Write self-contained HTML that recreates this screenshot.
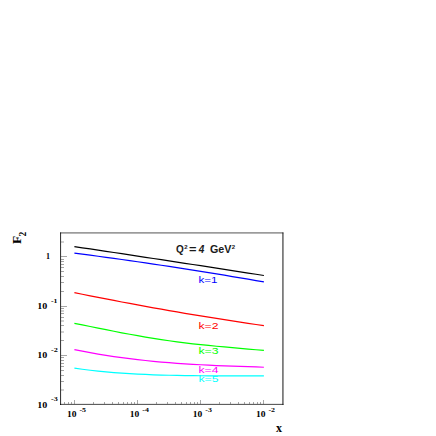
<!DOCTYPE html><html><head><meta charset="utf-8"><title>F2</title><style>html,body{margin:0;padding:0;background:#fff}svg{display:block}</style></head><body>
<svg width="436" height="436" viewBox="0 0 436 436">
<rect width="436" height="436" fill="#fff"/>
<path d="M60 232.93 H283.4" fill="none" stroke="#000" stroke-width="1" stroke-opacity="0.68"/>
<path d="M282.95 232.5 V404.9" fill="none" stroke="#000" stroke-width="1" stroke-opacity="0.92"/>
<path d="M60.56 232.5 V404.9" fill="none" stroke="#000" stroke-width="1.04" stroke-opacity="0.8"/>
<path d="M60 404.38 H283.5" fill="none" stroke="#000" stroke-width="1" stroke-opacity="0.72"/>
<path d="M64.5 404 v-2 M68.5 404 v-2 M71.5 404 v-2 M74.5 404 v-4 M93.5 404 v-2 M104.5 404 v-2 M112.5 404 v-2 M118.5 404 v-2 M123.5 404 v-2 M127.5 404 v-2 M131.5 404 v-2 M134.5 404 v-2 M137.5 404 v-4 M156.5 404 v-2 M167.5 404 v-2 M175.5 404 v-2 M181.5 404 v-2 M186.5 404 v-2 M190.5 404 v-2 M194.5 404 v-2 M197.5 404 v-2 M200.5 404 v-4 M219.5 404 v-2 M230.5 404 v-2 M238.5 404 v-2 M244.5 404 v-2 M249.5 404 v-2 M253.5 404 v-2 M257.5 404 v-2 M260.5 404 v-2 M263.5 404 v-4 M61 390 h3 M61 381.5 h3 M61 375.5 h3 M61 370.5 h3 M61 366.5 h3 M61 363.5 h3 M61 360.5 h3 M61 357.5 h3 M61 355.5 h6 M61 340.5 h3 M61 332 h3 M61 325.5 h3 M61 321 h3 M61 317.5 h3 M61 313.5 h3 M61 311 h3 M61 308.5 h3 M61 306.5 h6 M61 291.5 h3 M61 282.5 h3 M61 276.5 h3 M61 271.5 h3 M61 267.5 h3 M61 264.5 h3 M61 261.5 h3 M61 259.5 h3 M61 256.5 h6 M61 242 h3" fill="none" stroke="#000" stroke-width="0.35"/>
<path d="M74.4 246.62 L82.3 247.79 L90.2 248.97 L98.1 250.15 L106.0 251.33 L113.9 252.52 L121.8 253.71 L129.7 254.90 L137.6 256.09 L145.5 257.28 L153.4 258.48 L161.3 259.68 L169.1 260.88 L177.0 262.08 L184.9 263.29 L192.8 264.50 L200.7 265.71 L208.6 266.92 L216.5 268.14 L224.4 269.36 L232.3 270.58 L240.2 271.80 L248.1 273.03 L256.0 274.26 L263.9 275.49" fill="none" stroke="#000000" stroke-width="1.22" stroke-linejoin="round"/>
<path d="M74.4 253.16 L82.3 254.18 L90.2 255.22 L98.1 256.27 L106.0 257.34 L113.9 258.42 L121.8 259.52 L129.7 260.63 L137.6 261.76 L145.5 262.91 L153.4 264.07 L161.3 265.24 L169.1 266.43 L177.0 267.64 L184.9 268.87 L192.8 270.10 L200.7 271.36 L208.6 272.63 L216.5 273.92 L224.4 275.22 L232.3 276.53 L240.2 277.87 L248.1 279.22 L256.0 280.58 L263.9 281.96" fill="none" stroke="#0000ff" stroke-width="1.22" stroke-linejoin="round"/>
<path d="M74.4 292.64 L82.3 294.25 L90.2 295.83 L98.1 297.40 L106.0 298.94 L113.9 300.47 L121.8 301.98 L129.7 303.46 L137.6 304.93 L145.5 306.37 L153.4 307.80 L161.3 309.20 L169.1 310.59 L177.0 311.95 L184.9 313.29 L192.8 314.62 L200.7 315.92 L208.6 317.21 L216.5 318.47 L224.4 319.71 L232.3 320.94 L240.2 322.14 L248.1 323.32 L256.0 324.49 L263.9 325.63" fill="none" stroke="#ff0000" stroke-width="1.22" stroke-linejoin="round"/>
<path d="M74.4 323.30 L82.3 324.89 L90.2 326.49 L98.1 328.09 L106.0 329.68 L113.9 331.25 L121.8 332.78 L129.7 334.27 L137.6 335.70 L145.5 337.06 L153.4 338.36 L161.3 339.59 L169.1 340.74 L177.0 341.83 L184.9 342.84 L192.8 343.78 L200.7 344.66 L208.6 345.47 L216.5 346.24 L224.4 346.97 L232.3 347.67 L240.2 348.36 L248.1 349.04 L256.0 349.74 L263.9 350.46" fill="none" stroke="#00ff00" stroke-width="1.22" stroke-linejoin="round"/>
<path d="M74.4 349.60 L82.3 351.18 L90.2 352.66 L98.1 354.04 L106.0 355.33 L113.9 356.53 L121.8 357.65 L129.7 358.68 L137.6 359.63 L145.5 360.50 L153.4 361.30 L161.3 362.03 L169.1 362.69 L177.0 363.29 L184.9 363.83 L192.8 364.32 L200.7 364.76 L208.6 365.16 L216.5 365.53 L224.4 365.86 L232.3 366.16 L240.2 366.45 L248.1 366.72 L256.0 366.98 L263.9 367.24" fill="none" stroke="#ff00ff" stroke-width="1.22" stroke-linejoin="round"/>
<path d="M74.4 368.13 L82.3 369.25 L90.2 370.25 L98.1 371.12 L106.0 371.89 L113.9 372.57 L121.8 373.15 L129.7 373.66 L137.6 374.09 L145.5 374.46 L153.4 374.77 L161.3 375.02 L169.1 375.24 L177.0 375.41 L184.9 375.55 L192.8 375.66 L200.7 375.75 L208.6 375.81 L216.5 375.86 L224.4 375.90 L232.3 375.93 L240.2 375.94 L248.1 375.95 L256.0 375.96 L263.9 375.96" fill="none" stroke="#00ffff" stroke-width="1.22" stroke-linejoin="round"/>
<g font-family="'Liberation Sans', sans-serif" fill="#1a1a1a" font-weight="bold">
<text x="176" y="253" font-size="10">Q</text>
<text x="184.3" y="248.5" font-size="6">2</text>
<text x="189" y="253" font-size="10" textLength="7.5" lengthAdjust="spacingAndGlyphs">=</text>
<text x="198.7" y="253" font-size="10" font-style="italic">4</text>
<text x="210" y="253" font-size="10" textLength="21.5" lengthAdjust="spacingAndGlyphs">GeV</text>
<text x="231.8" y="249" font-size="6">2</text>
</g>
<g font-family="'Liberation Sans', sans-serif" font-size="8.3">
<text x="198.5" y="282.8" fill="#0000ff" textLength="19" lengthAdjust="spacingAndGlyphs">k=1</text>
<text x="198.5" y="328.5" fill="#ff0000" textLength="20" lengthAdjust="spacingAndGlyphs">k=2</text>
<text x="198.5" y="353.5" fill="#00ff00" textLength="20" lengthAdjust="spacingAndGlyphs">k=3</text>
<text x="198.5" y="372.5" fill="#ff00ff" textLength="20" lengthAdjust="spacingAndGlyphs">k=4</text>
<text x="198.5" y="382.4" fill="#00ffff" textLength="20" lengthAdjust="spacingAndGlyphs">k=5</text>
</g>
<g font-family="'Liberation Serif', serif" font-weight="bold" fill="#000">
<text x="46" y="259.4" font-size="8">1</text>
<text x="37.2" y="309" font-size="8" textLength="10" lengthAdjust="spacingAndGlyphs">10</text>
<text x="51" y="302.6" font-size="6.4" textLength="6.5" lengthAdjust="spacingAndGlyphs">-1</text>
<text x="37.2" y="358.4" font-size="8" textLength="10" lengthAdjust="spacingAndGlyphs">10</text>
<text x="51" y="351.7" font-size="6.4" textLength="6.8" lengthAdjust="spacingAndGlyphs">-2</text>
<text x="37.2" y="407.7" font-size="8" textLength="10" lengthAdjust="spacingAndGlyphs">10</text>
<text x="51" y="401" font-size="6.4" textLength="6.8" lengthAdjust="spacingAndGlyphs">-3</text>
<text x="66.9" y="416.9" font-size="8" textLength="9.5" lengthAdjust="spacingAndGlyphs">10</text>
<text x="79.4" y="411.7" font-size="6.4" textLength="6.6" lengthAdjust="spacingAndGlyphs">-5</text>
<text x="129.8" y="416.9" font-size="8" textLength="9.5" lengthAdjust="spacingAndGlyphs">10</text>
<text x="142.3" y="411.7" font-size="6.4" textLength="6.6" lengthAdjust="spacingAndGlyphs">-4</text>
<text x="192.8" y="416.9" font-size="8" textLength="9.5" lengthAdjust="spacingAndGlyphs">10</text>
<text x="205.3" y="411.7" font-size="6.4" textLength="6.6" lengthAdjust="spacingAndGlyphs">-3</text>
<text x="255.9" y="416.9" font-size="8" textLength="9.5" lengthAdjust="spacingAndGlyphs">10</text>
<text x="268.4" y="411.7" font-size="6.4" textLength="6.6" lengthAdjust="spacingAndGlyphs">-2</text>
<text x="276" y="431.65" font-size="12">x</text>
<text transform="translate(20.85 244) rotate(-90)" font-size="13.5">F</text>
<text transform="translate(25.9 236.6) rotate(-90)" font-size="9.5">2</text>
</g>
</svg></body></html>
